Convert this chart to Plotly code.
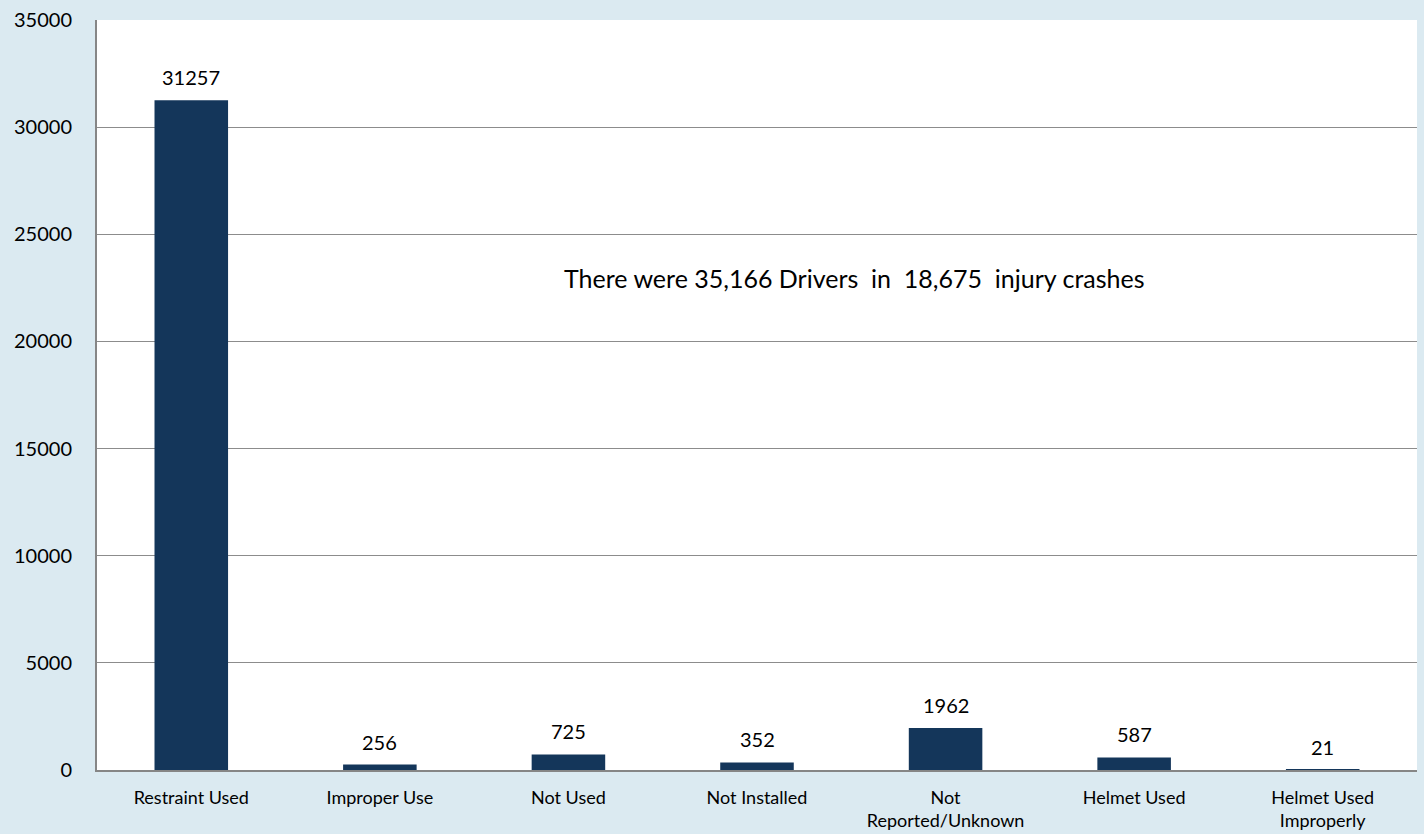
import plotly.graph_objects as go

categories = ["Restraint Used", "Improper Use", "Not Used", "Not Installed",
              "Not<br>Reported/Unknown", "Helmet Used", "Helmet Used<br>Improperly"]
drivers = [31257, 256, 725, 352, 1962, 587, 21]
y_ticks = [0, 5000, 10000, 15000, 20000, 25000, 30000, 35000]

BAR = "#14365a"
BG = "#dbeaf1"
FONT = "Lato, 'Open Sans', sans-serif"

fig = go.Figure(go.Bar(
    x=categories, y=drivers, marker_color=BAR, marker_line_width=0,
    width=0.39, showlegend=False,
))

# value labels above each bar
for c, v in zip(categories, drivers):
    fig.add_annotation(x=c, y=v, text=str(v), showarrow=False,
                       yanchor="bottom", yshift=9,
                       font=dict(family=FONT, size=20, color="#000000"))

fig.add_annotation(xref="paper", x=0.574, y=22960,
                   text="There were 35,166 Drivers  in  18,675  injury crashes",
                   showarrow=False, font=dict(family=FONT, size=25, color="#000000"))

fig.update_layout(
    width=1424, height=834,
    paper_bgcolor=BG, plot_bgcolor="#ffffff",
    margin=dict(l=97, r=7, t=20, b=64),
    bargap=0.61,
    font=dict(family=FONT, color="#000000"),
)
fig.update_xaxes(
    showline=True, linecolor="#868686", linewidth=2,
    tickfont=dict(size=18), ticks="", showgrid=False,
    ticklabelstandoff=10, automargin=False,
)
fig.update_yaxes(
    range=[0, 35000], tickvals=y_ticks, ticktext=[str(t) for t in y_ticks],
    showline=True, linecolor="#868686", linewidth=2,
    gridcolor="#8c8c8c", gridwidth=1, zeroline=False,
    tickfont=dict(size=20), ticklabelstandoff=19, automargin=False,
)

fig.write_html("out.html")
